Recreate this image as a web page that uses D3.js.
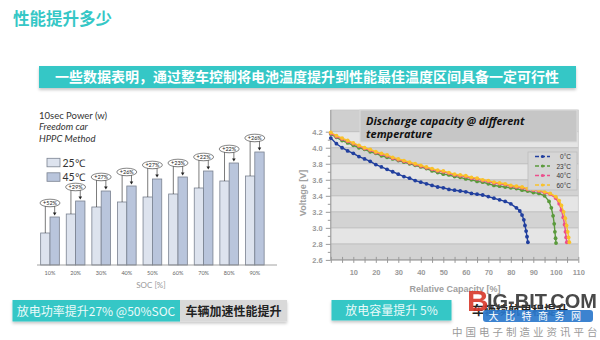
<!DOCTYPE html>
<html><head><meta charset="utf-8">
<script src="https://cdn.jsdelivr.net/npm/d3@7"></script>
<style>
html,body{margin:0;padding:0;background:#fff;}
svg{display:block;}
</style></head>
<body>
<svg id="c" width="600" height="340"></svg>
<script>
// ---------- DATA ----------
const socLabels = ["10%","20%","30%","40%","50%","60%","70%","80%","90%"];
const power25 = [32, 51, 58, 63, 68, 71, 77, 84, 89];
const power45 = [48, 64, 74, 79, 86, 88, 94, 102, 113];
const gainLabels = ["+52%","+29%","+27%","+26%","+27%","+23%","+22%","+22%","+26%"];
const powerSeries = ["25℃","45℃"];

const capTicks = [10,20,30,40,50,60,70,80,90,100,110];
const voltTicks = [2.6,2.8,3.0,3.2,3.4,3.6,3.8,4.0,4.2];
const tempNames = ["0°C","23°C","40°C","60°C"];

const cap0 = [0,2.5,5,7.5,10,12.5,15,17.5,20,22.5,25,27.5,30,32.5,35,37.5,40,42.5,45,47.5,50,52.5,55,57.5,60,62.5,65,67.5,70,72.5,75,77.5,80,82.5,84,85,85.8,86.3,86.8,87.2,87.6];
const volt0 = [4.12,4.05,4.00,3.96,3.93,3.89,3.86,3.83,3.79,3.76,3.73,3.70,3.67,3.64,3.62,3.59,3.57,3.55,3.53,3.51,3.50,3.48,3.47,3.46,3.45,3.43,3.42,3.41,3.39,3.37,3.35,3.33,3.30,3.25,3.21,3.16,3.10,3.03,2.96,2.89,2.82];

const cap23 = [0,2.5,5,7.5,10,12.5,15,17.5,20,22.5,25,27.5,30,32.5,35,37.5,40,42.5,45,47.5,50,52.5,55,57.5,60,62.5,65,67.5,70,72.5,75,77.5,80,82.5,85,87.5,90,92.5,95,97,98,98.8,99.3,99.6,99.9,100.1];
const volt23 = [4.17,4.13,4.09,4.06,4.03,4.00,3.98,3.95,3.93,3.90,3.88,3.86,3.84,3.82,3.80,3.78,3.76,3.74,3.71,3.69,3.67,3.66,3.64,3.63,3.61,3.60,3.58,3.57,3.55,3.53,3.52,3.51,3.50,3.49,3.47,3.46,3.44,3.43,3.40,3.33,3.25,3.15,3.05,2.95,2.87,2.81];

const cap40 = [0,2.5,5,7.5,10,12.5,15,17.5,20,22.5,25,27.5,30,32.5,35,37.5,40,42.5,45,47.5,50,52.5,55,57.5,60,62.5,65,67.5,70,72.5,75,77.5,80,82.5,85,87.5,90,92.5,95,97.5,100,101.5,102.5,103.3,103.9,104.3,104.6,104.9];
const volt40 = [4.18,4.14,4.11,4.08,4.05,4.02,3.99,3.97,3.94,3.92,3.90,3.87,3.85,3.83,3.81,3.79,3.77,3.75,3.73,3.71,3.70,3.68,3.66,3.65,3.64,3.62,3.61,3.59,3.58,3.56,3.55,3.54,3.52,3.51,3.50,3.48,3.47,3.46,3.44,3.42,3.37,3.30,3.22,3.13,3.04,2.95,2.88,2.82];

const cap60 = [0,2.5,5,7.5,10,12.5,15,17.5,20,22.5,25,27.5,30,32.5,35,37.5,40,42.5,45,47.5,50,52.5,55,57.5,60,62.5,65,67.5,70,72.5,75,77.5,80,82.5,85,87.5,90,92.5,95,97.5,100,101.5,102.5,103.5,104.2,104.8,105.3,105.7,106];
const volt60 = [4.19,4.15,4.12,4.09,4.06,4.03,4.00,3.98,3.95,3.93,3.91,3.88,3.86,3.84,3.82,3.80,3.78,3.76,3.74,3.72,3.71,3.69,3.67,3.66,3.65,3.63,3.62,3.60,3.59,3.57,3.56,3.55,3.53,3.52,3.51,3.49,3.48,3.47,3.45,3.43,3.39,3.34,3.28,3.20,3.12,3.03,2.95,2.88,2.82];

// ---------- SETUP ----------
const svg = d3.select("#c");
const TEAL = "#35c7c6";
const CJK = "'Noto Sans CJK SC', sans-serif";
const defs = svg.append("defs");
const sh = defs.append("filter").attr("id","shadow").attr("x","-5%").attr("y","-20%").attr("width","110%").attr("height","160%");
sh.append("feDropShadow").attr("dx",0).attr("dy",2).attr("stdDeviation",1.5).attr("flood-color","#000").attr("flood-opacity",0.22);
defs.append("marker").attr("id","arr").attr("viewBox","0 0 6 6").attr("refX",3).attr("refY",6)
  .attr("markerWidth",4).attr("markerHeight",4).attr("orient","0")
  .append("path").attr("d","M0,0 L6,0 L3,6 Z").attr("fill","#222");

// Title
svg.append("text").attr("x",13).attr("y",25).attr("font-family",CJK).attr("font-weight",700)
  .attr("font-size",16.5).attr("fill",TEAL).text("性能提升多少");

// Banner
svg.append("rect").attr("x",39).attr("y",66).attr("width",537).attr("height",22).attr("fill",TEAL).attr("filter","url(#shadow)");
svg.append("text").attr("x",307).attr("y",82).attr("text-anchor","middle").attr("font-family",CJK)
  .attr("font-weight",700).attr("font-size",14).attr("fill","#fff")
  .text("一些数据表明，通过整车控制将电池温度提升到性能最佳温度区间具备一定可行性");

// ---------- LEFT CHART ----------
const L = svg.append("g");
const LF = "Lato, 'Open Sans', sans-serif";
L.append("text").attr("x",39).attr("y",118.5).attr("font-family",LF).attr("font-size",9.5).attr("fill","#333").text("10sec Power (w)");
L.append("text").attr("x",39).attr("y",130).attr("font-family",LF).attr("font-style","italic").attr("font-size",9.5).attr("fill","#333").text("Freedom car");
L.append("text").attr("x",39).attr("y",141.5).attr("font-family",LF).attr("font-style","italic").attr("font-size",9.5).attr("fill","#333").text("HPPC Method");

const barColors = ["#dde3ee","#b9c5dc"];
const xBand = d3.scaleBand().domain(socLabels).range([37.2,267.6]).paddingInner(0.27).paddingOuter(0.135);
const xSub = d3.scaleBand().domain(powerSeries).range([0,xBand.bandwidth()]);
const yPow = d3.scaleLinear().domain([0,120]).range([265,145]);

// legend
powerSeries.forEach((s,i)=>{
  L.append("rect").attr("x",47).attr("y",158.3+i*14.5).attr("width",13).attr("height",8.5)
    .attr("fill",barColors[i]).attr("stroke","#7a8290").attr("stroke-width",0.8);
  L.append("text").attr("x",62.5).attr("y",166.5+i*14.5).attr("font-family",LF).attr("font-size",10.5).attr("fill","#333").text(s);
});

const groups = L.selectAll("g.grp").data(socLabels).join("g").attr("class","grp")
  .attr("transform",d=>`translate(${xBand(d)},0)`);
groups.each(function(d,i){
  const g = d3.select(this);
  const vals = [power25[i], power45[i]];
  vals.forEach((v,j)=>{
    g.append("rect").attr("x",xSub(powerSeries[j])).attr("y",yPow(v)).attr("width",xSub.bandwidth())
      .attr("height",yPow(0)-yPow(v)).attr("fill",barColors[j]).attr("stroke","#7a8290").attr("stroke-width",0.8);
  });
  const xa = xSub(powerSeries[0]) + xSub.bandwidth()/2;
  const xb = xSub(powerSeries[1]) + xSub.bandwidth()/2;
  const yH = yPow(power45[i]) - 11;
  g.append("path").attr("d",`M${xa},${yPow(power25[i])} V${yH} H${xb} V${yPow(power45[i])-4}`)
    .attr("fill","none").attr("stroke","#222").attr("stroke-width",0.6);
  g.append("path").attr("d",`M${xb-1.8},${yPow(power45[i])-4.5} L${xb+1.8},${yPow(power45[i])-4.5} L${xb},${yPow(power45[i])-1.5} Z`).attr("fill","#222");
  const cx = xBand.bandwidth()/2;
  g.append("ellipse").attr("cx",cx).attr("cy",yH-3).attr("rx",10).attr("ry",3.8)
    .attr("fill","#fff").attr("stroke","#333").attr("stroke-width",0.6);
  g.append("text").attr("x",cx).attr("y",yH-1).attr("text-anchor","middle").attr("font-family",LF)
    .attr("font-size",5.5).attr("fill","#222").text(gainLabels[i]);
});
L.append("line").attr("x1",37).attr("x2",277).attr("y1",265).attr("y2",265).attr("stroke","#8a8a8a").attr("stroke-width",0.8);
L.selectAll("text.soc").data(socLabels).join("text").attr("class","soc")
  .attr("x",d=>xBand(d)+xBand.bandwidth()/2).attr("y",274.5).attr("text-anchor","middle")
  .attr("font-family",LF).attr("font-size",5.5).attr("fill","#666").text(d=>d);
L.append("text").attr("x",151).attr("y",288).attr("text-anchor","middle").attr("font-family",LF)
  .attr("font-size",8).attr("fill","#999").text("SOC [%]");

// ---------- RIGHT CHART ----------
const R = svg.append("g");
const x = d3.scaleLinear().domain([0,110]).range([330.8,578.3]);
const y = d3.scaleLinear().domain([2.6,4.2]).range([259.9,131.7]);
const plotTop = 110;
R.append("rect").attr("x",x(0)).attr("y",plotTop).attr("width",x(110)-x(0)).attr("height",y(4.2)-plotTop).attr("fill","#cfcfcf");
for (let k=0;k<voltTicks.length-1;k++){
  const a = voltTicks[k], b = voltTicks[k+1];
  R.append("rect").attr("x",x(0)).attr("y",y(b)).attr("width",x(110)-x(0)).attr("height",y(a)-y(b))
    .attr("fill",k%2===0 ? "#d3d3d3" : "#e5e5e5");
}
R.selectAll("line.grid").data(voltTicks).join("line").attr("class","grid")
  .attr("x1",x(0)).attr("x2",x(110)).attr("y1",d=>y(d)).attr("y2",d=>y(d)).attr("stroke","#bdbdbd").attr("stroke-width",1);
R.append("rect").attr("x",x(0)).attr("y",plotTop).attr("width",x(110)-x(0)).attr("height",y(2.6)-plotTop)
  .attr("fill","none").attr("stroke","#c8c8c8").attr("stroke-width",0.8);

// title box
R.append("rect").attr("x",360).attr("y",110).attr("width",217).attr("height",32).attr("fill","#c6c6c6").attr("stroke","#dcdcdc").attr("stroke-width",1);
R.append("text").attr("x",366).attr("y",125).attr("font-family","'Open Sans', sans-serif").attr("font-weight",700).attr("font-style","italic")
  .attr("font-size",11).attr("fill","#111").text("Discharge capacity @ different");
R.append("text").attr("x",366).attr("y",137.5).attr("font-family","'Open Sans', sans-serif").attr("font-weight",700).attr("font-style","italic")
  .attr("font-size",11).attr("fill","#111").text("temperature");

// axes
const axG = "#9a9a9a";
const yAx = R.append("g").attr("transform",`translate(${x(0)},0)`)
  .call(d3.axisLeft(y).tickValues(d3.range(26,43).map(v=>v/10)).tickSize(3.5).tickFormat(d=>{
    const r = Math.round(d*10); return r%2===0 ? d3.format(".1f")(d) : "";}));
yAx.select(".domain").attr("stroke",axG).attr("stroke-width",1).attr("d",`M0,${plotTop}V${y(2.6)}`);
yAx.selectAll(".tick line").attr("stroke",axG).attr("x2",d=>Math.round(d*10)%2===0?-5:-3);
yAx.selectAll(".tick text").attr("font-family","'Liberation Sans', Arial, sans-serif").attr("font-weight",700)
  .attr("font-size",7.5).attr("fill",axG).attr("x",-8);

const xAx = R.append("g").attr("transform",`translate(0,${y(2.6)})`)
  .call(d3.axisBottom(x).tickValues(d3.range(0,111,5)).tickSize(3).tickFormat(d=>capTicks.includes(d)?d:""));
xAx.select(".domain").attr("stroke",axG).attr("stroke-width",1).attr("d",`M${x(0)},0H${x(110)}`);
xAx.selectAll(".tick line").attr("stroke",axG).attr("y1",-3).attr("y2",3);
xAx.selectAll(".tick text").attr("font-family","'Liberation Sans', Arial, sans-serif").attr("font-weight",700)
  .attr("font-size",7.5).attr("fill",axG).attr("y",10);

R.append("text").attr("transform",`translate(306,193) rotate(-90)`).attr("text-anchor","middle")
  .attr("font-family","'Liberation Sans', Arial, sans-serif").attr("font-weight",700).attr("font-size",9).attr("fill","#a0a0a0").text("Voltage [V]");
R.append("text").attr("x",455).attr("y",292).attr("text-anchor","middle")
  .attr("font-family","'Liberation Sans', Arial, sans-serif").attr("font-weight",700).attr("font-size",9).attr("fill","#a0a0a0").text("Relative Capacity [%]");

// curves
const curveColors = ["#213f9e","#5a9a3c","#ec4f8c","#f9c22a"];
const caps = [cap0,cap23,cap40,cap60];
const volts = [volt0,volt23,volt40,volt60];
const line = d3.line().x(d=>x(d[0])).y(d=>y(d[1]));
caps.forEach((c,i)=>{
  const pts = c.map((cv,j)=>[cv, volts[i][j]]);
  const g = R.append("g");
  g.append("path").attr("d",line(pts)).attr("fill","none").attr("stroke",curveColors[i]).attr("stroke-width",1.4);
  g.selectAll("circle").data(pts).join("circle").attr("cx",d=>x(d[0])).attr("cy",d=>y(d[1])).attr("r",1.9)
    .attr("fill",curveColors[i]);
});

// legend
R.append("rect").attr("x",528).attr("y",152).attr("width",49).attr("height",38).attr("fill","#d6d6d6").attr("stroke","#bdbdbd").attr("stroke-width",0.8);
tempNames.forEach((n,i)=>{
  const yy = 156.5 + i*9.5;
  R.append("line").attr("x1",535).attr("x2",550).attr("y1",yy).attr("y2",yy).attr("stroke",curveColors[i]).attr("stroke-width",1.5).attr("stroke-dasharray","4,2");
  R.append("circle").attr("cx",542.5).attr("cy",yy).attr("r",1.6).attr("fill",curveColors[i]);
  R.append("text").attr("x",571).attr("y",yy+2.5).attr("text-anchor","end").attr("font-family","'Liberation Sans', Arial, sans-serif")
    .attr("font-size",6.5).attr("fill","#333").text(n);
});

// ---------- BOTTOM LABELS ----------
const B = svg.append("g");
B.append("g").attr("filter","url(#shadow)").call(g=>{
  g.append("rect").attr("x",12.5).attr("y",300).attr("width",167.5).attr("height",21.5).attr("fill",TEAL);
  g.append("rect").attr("x",180).attr("y",300).attr("width",107).attr("height",21.5).attr("fill","#d9d9d9");
});
B.append("text").attr("x",96).attr("y",315.5).attr("text-anchor","middle").attr("font-family",CJK).attr("font-size",12).attr("fill","#eafafa").text("放电功率提升27% @50%SOC");
B.append("text").attr("x",233.5).attr("y",315.5).attr("text-anchor","middle").attr("font-family",CJK).attr("font-weight",700).attr("font-size",12).attr("fill","#222").text("车辆加速性能提升");

B.append("rect").attr("x",331.5).attr("y",300).attr("width",120).attr("height",20.5).attr("fill",TEAL).attr("filter","url(#shadow)");
B.append("text").attr("x",391.5).attr("y",315).attr("text-anchor","middle").attr("font-family",CJK).attr("font-size",12).attr("fill","#eafafa").text("放电容量提升 5%");
B.append("text").attr("x",472).attr("y",315).attr("font-family",CJK).attr("font-weight",700).attr("font-size",12).attr("fill","#222").text("车辆续航里程提升");

// ---------- WATERMARK LOGO ----------
const W = svg.append("g");
W.append("text").attr("x",467).attr("y",311).attr("font-family","'Liberation Sans', Arial, sans-serif").attr("font-weight",700)
  .attr("font-size",30).attr("fill","#d8382a").attr("opacity",0.9).text("B");
W.append("text").attr("x",487).attr("y",308).attr("font-family","'Liberation Sans', Arial, sans-serif").attr("font-weight",700)
  .attr("font-size",20).attr("fill","#3a3a3a").attr("opacity",0.92).text("IG-BIT.COM");
W.append("rect").attr("x",483).attr("y",310).attr("width",110).attr("height",12).attr("rx",3).attr("fill","#2b78cc").attr("opacity",0.92);
W.append("text").attr("x",538).attr("y",320).attr("text-anchor","middle").attr("font-family",CJK).attr("font-size",10)
  .attr("fill","#fff").attr("letter-spacing",6.5).text("大比特商务网");
W.append("text").attr("x",452).attr("y",336).attr("font-family",CJK).attr("font-size",10.5)
  .attr("fill","#9a9a9a").attr("letter-spacing",3).text("中国电子制造业资讯平台");
</script>
</body></html>
